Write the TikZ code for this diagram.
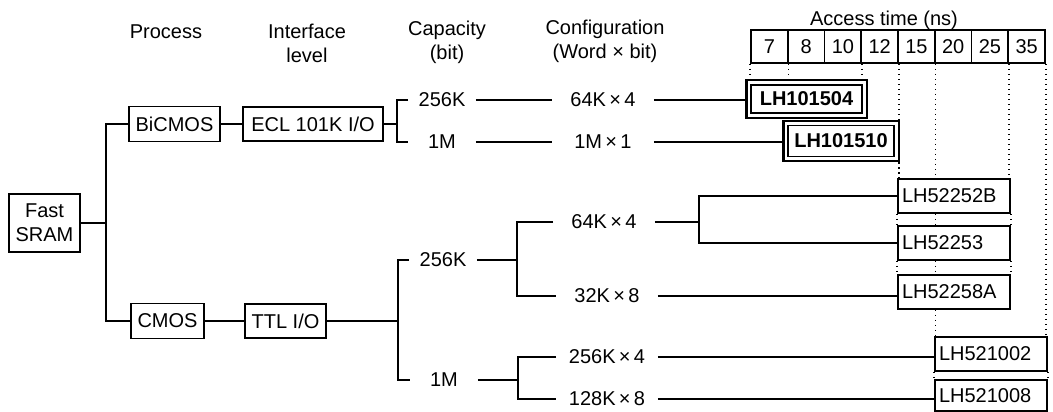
\documentclass[tikz,border=0pt]{standalone}
\usepackage{fontspec}
\setmainfont{Liberation Sans}
\usetikzlibrary{fit}
\begin{document}
\begin{tikzpicture}[x=1pt,y=-1pt,
  font=\fontsize{20}{24}\selectfont,
  line width=1.6pt,
  box/.style={draw, line width=1.6pt, inner sep=0pt, align=center},
  lbl/.style={inner sep=0pt, minimum height=24pt, align=center},
  cell/.style={draw, line width=1.6pt, minimum width=36.75pt, minimum height=33pt, inner sep=0pt},
  pbox/.style={draw, line width=1.6pt, inner xsep=4pt, inner ysep=0pt, minimum height=34pt, text width=104pt, align=left},
  bbox/.style={draw, line width=1.2pt, inner sep=0pt, font=\fontsize{20}{24}\selectfont\bfseries},
  bframe/.style={draw, line width=2.2pt, inner sep=4pt},
  dots/.style={line width=1.6pt, dash pattern=on 1.6pt off 3.4pt}]
\useasboundingbox (0,0) rectangle (1053,412);

% column headings
\node[lbl] (hproc) at (166,32) {Process};
\node[lbl] (hint) at (307,43) {Interface\\level};
\node[lbl] (hcap) at (447,42) {Capacity\\(bit)};
\node[lbl] (hcfg) at (605,41) {Configuration\\(Word × bit)};
\node[lbl] (hacc) at (884,20) {Access time (ns)};
\foreach \i/\t in {1/7,2/8,3/10,4/12,5/15,6/20,7/25,8/35}
  \node[cell] (c\i) at ({751+36.75*(\i-0.5)},46.5) {\t};

% tree boxes
\node[box, minimum width=71pt, minimum height=58pt] (sram) at (44.5,223) {Fast\\SRAM};
\node[box, minimum width=91pt, minimum height=35pt] (bicmos) at (174.5,124) {BiCMOS};
\node[box, minimum width=140pt, minimum height=34pt] (ecl) at (313,124) {ECL 101K I/O};
\node[box, minimum width=73pt, minimum height=35pt] (cmos) at (167.5,321) {CMOS};
\node[box, minimum width=81pt, minimum height=34pt] (ttl) at (285.5,321) {TTL I/O};

% capacity / configuration labels
\node[lbl, minimum width=66pt] (capA) at (442,100) {256K};
\node[lbl, minimum width=66pt] (capB) at (442,142) {1M};
\node[lbl, minimum width=100pt] (cfgA) at (603,100) {64K\,×\,4};
\node[lbl, minimum width=100pt] (cfgB) at (603,142) {1M\,×\,1};
\node[lbl, minimum width=66pt] (capC) at (443,260) {256K};
\node[lbl, minimum width=66pt] (capD) at (444,380) {1M};
\node[lbl, minimum width=100pt] (cfgC) at (604,222) {64K\,×\,4};
\node[lbl, minimum width=100pt] (cfgD) at (607,296) {32K\,×\,8};
\node[lbl, minimum width=100pt] (cfgE) at (607,357) {256K\,×\,4};
\node[lbl, minimum width=100pt] (cfgF) at (607,399) {128K\,×\,8};

% parts
\node[bbox, minimum width=111pt, minimum height=28pt] (b1504) at (806.5,99) {LH101504};
\node[bframe, fit=(b1504)] (b1504o) {};
\node[bbox, minimum width=106pt, minimum height=31pt] (b1510) at (841,141) {LH101510};
\node[bframe, fit=(b1510)] (b1510o) {};
\node[pbox] (p52252B) at (954,196) {LH52252B};
\node[pbox] (p52253) at (954,243) {LH52253};
\node[pbox] (p52258A) at (954,292) {LH52258A};
\node[pbox] (p521002) at (991,354) {LH521002};
\node[pbox, minimum height=31pt] (p521008) at (991,395.5) {LH521008};

% junctions
\coordinate (j1) at (106,223);
\coordinate (j2) at (397,121);
\coordinate (j3) at (398,320);
\coordinate (j4) at (517,259);
\coordinate (j5) at (699,220);
\coordinate (j6) at (518,378);

% connectors
\draw (sram.east) -- (j1);
\draw (bicmos.west) -| (j1) |- (cmos.west);
\draw (bicmos) -- (ecl);
\draw (ecl.east) -- (ecl.east -| j2);
\draw (capA.west) -| (j2) |- (capB.west);
\draw (capA) -- (cfgA);
\draw (capB) -- (cfgB);
\draw (cfgA.east) -- (cfgA.east -| b1504o.west);
\draw (cfgB.east) -- (cfgB.east -| b1510o.west);
\draw (cmos) -- (ttl);
\draw (ttl.east) -- (ttl.east -| j3);
\draw (capC.west) -| (j3) |- (capD.west);
\draw (capC.east) -- (capC.east -| j4);
\draw (cfgC.west) -| (j4) |- (cfgD.west);
\draw (cfgC.east) -- (cfgC.east -| j5);
\draw (p52252B.west) -| (j5) |- (p52253.west);
\draw (cfgD.east) -- (cfgD.east -| p52258A.west);
\draw (capD.east) -- (capD.east -| j6);
\draw (cfgE.west) -| (j6) |- (cfgF.west);
\draw (cfgE.east) -- (cfgE.east -| p521002.west);
\draw (cfgF.east) -- (cfgF.east -| p521008.west);

% access-time guide lines
\draw[dots] (c1.south west) -- (c1.south west |- b1504o.north);
\draw[dots] (c1.south east) -- (c1.south east |- b1504o.north);
\draw[dots] (c3.south east) -- (c3.south east |- b1504o.north);
\draw[dots] (c4.south east) -- (c4.south east |- b1510o.north);
\draw[dots] (c4.south east |- b1510o.south) -- (c4.south east |- p52252B.north);
\draw[dots] (c5.south east) -- (c5.south east |- p52252B.north);
\draw[dots] (c7.south east) -- (c7.south east |- p52252B.north);
\draw[dots] (c8.south east) -- (c8.south east |- p521002.north);
\draw[dots] (p52252B.south west) -- (p52253.north west);
\draw[dots] (c5.south east |- p52252B.south) -- (c5.south east |- p52253.north);
\draw[dots] (p52252B.south east) -- (p52253.north east);
\draw[dots] (p52253.south west) -- (p52258A.north west);
\draw[dots] (c5.south east |- p52253.south) -- (c5.south east |- p52258A.north);
\draw[dots] (p52253.south east) -- (p52258A.north east);
\draw[dots] (c5.south east |- p52258A.south) -- (c5.south east |- p521002.north);
\draw[dots] (p521002.south west) -- (p521008.north west);
\draw[dots] (p521002.south east) -- (p521008.north east);
\end{tikzpicture}
\end{document}
